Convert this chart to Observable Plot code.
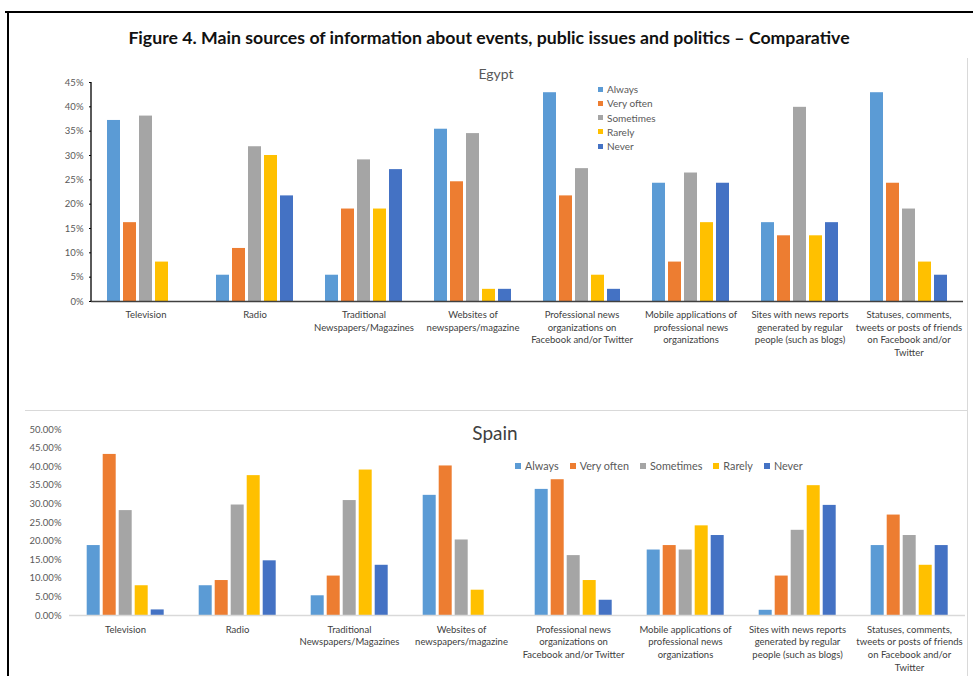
<!DOCTYPE html>
<html>
<head>
<meta charset="utf-8">
<script src="https://cdn.jsdelivr.net/npm/d3@7"></script>
<script src="https://cdn.jsdelivr.net/npm/@observablehq/plot@0.6"></script>
<style>
  html, body { margin: 0; padding: 0; background: #fff; }
  body { width: 973px; height: 676px; position: relative; overflow: hidden; font-family: Lato, "Open Sans", sans-serif; }
  .abs { position: absolute; }
  #title { left: 0; width: 978px; top: 27px; text-align: center; font-weight: 700; font-size: 17.7px; color: #111; white-space: nowrap; }
  #egyptTitle { left: 0; width: 992px; top: 65px; text-align: center; font-size: 14px; color: #595959; }
  #spainTitle { left: 0; width: 990px; top: 421px; text-align: center; font-size: 19px; color: #404040; }
  .legend-v { left: 598px; top: 82px; font-size: 10px; color: #595959; }
  .legend-v div { height: 14.25px; line-height: 14.25px; display: flex; align-items: center; }
  .legend-h { left: 515px; top: 459px; font-size: 10.8px; color: #595959; display: flex; align-items: center; }
  .legend-h span.item { display: flex; align-items: center; margin-right: 11px; }
  .sw { display: inline-block; margin-right: 4px; }
  .legend-v .sw { width: 5px; height: 5px; }
  .legend-h .sw { width: 6px; height: 6px; }
  .line { position: absolute; }
</style>
</head>
<body>
<div class="line" style="left:5px; top:11px; width:968px; height:2px; background:#000;"></div>
<div class="line" style="left:7px; top:11px; width:2px; height:665px; background:#000;"></div>
<div class="line" style="left:967px; top:58px; width:1px; height:618px; background:#d9d9d9;"></div>
<div class="line" style="left:25px; top:410px; width:943px; height:1px; background:#d9d9d9;"></div>

<div id="title" class="abs">Figure 4. Main sources of information about events, public issues and politics – Comparative</div>
<div id="egyptChart" class="abs" style="left:0; top:60px;"></div>
<div id="spainChart" class="abs" style="left:0; top:420px;"></div>
<div id="egyptTitle" class="abs">Egypt</div>
<div id="spainTitle" class="abs">Spain</div>
<div id="egyptLegend" class="abs legend-v"></div>
<div id="spainLegend" class="abs legend-h"></div>

<script>
// ---- Data ----
const categories = ["Television", "Radio", "Traditional", "Websites", "Professional", "Mobile", "Sites", "Statuses"];
const categoryLabels = [
  "Television",
  "Radio",
  "Traditional\nNewspapers/Magazines",
  "Websites of\nnewspapers/magazine",
  "Professional news\norganizations on\nFacebook and/or Twitter",
  "Mobile applications of\nprofessional news\norganizations",
  "Sites with news reports\ngenerated by regular\npeople (such as blogs)",
  "Statuses, comments,\ntweets or posts of friends\non Facebook and/or\nTwitter"
];
const seriesNames = ["Always", "Very often", "Sometimes", "Rarely", "Never"];
const seriesColors = ["#5B9BD5", "#ED7D31", "#A5A5A5", "#FFC000", "#4472C4"];

// Egypt (%)
const egyptAlways    = [37.2, 5.4, 5.4, 35.4, 42.9, 24.3, 16.2, 42.9];
const egyptVeryOften = [16.2, 10.9, 19.0, 24.6, 21.7, 8.1, 13.5, 24.3];
const egyptSometimes = [38.1, 31.8, 29.1, 34.5, 27.3, 26.4, 39.9, 19.0];
const egyptRarely    = [8.1, 30.0, 19.0, 2.5, 5.4, 16.2, 13.5, 8.1];
const egyptNever     = [0, 21.7, 27.1, 2.5, 2.5, 24.3, 16.2, 5.4];

// Spain (%)
const spainAlways    = [18.8, 8.0, 5.3, 32.3, 33.9, 17.6, 1.4, 18.8];
const spainVeryOften = [43.3, 9.4, 10.6, 40.2, 36.5, 18.8, 10.6, 27.0];
const spainSometimes = [28.2, 29.7, 30.9, 20.3, 16.1, 17.6, 22.9, 21.5];
const spainRarely    = [8.0, 37.6, 39.1, 6.8, 9.4, 24.1, 34.9, 13.5];
const spainNever     = [1.5, 14.7, 13.5, 0, 4.1, 21.5, 29.6, 18.8];

const egyptTicks = [0, 5, 10, 15, 20, 25, 30, 35, 40, 45];
const spainTicks = [0, 5, 10, 15, 20, 25, 30, 35, 40, 45, 50];

function toRows(seriesArrays) {
  const rows = [];
  categories.forEach((c, i) => {
    seriesNames.forEach((s, j) => {
      rows.push({category: c, series: s, value: seriesArrays[j][i]});
    });
  });
  return rows;
}
const egyptData = toRows([egyptAlways, egyptVeryOften, egyptSometimes, egyptRarely, egyptNever]);
const spainData = toRows([spainAlways, spainVeryOften, spainSometimes, spainRarely, spainNever]);

const labelOf = d => categoryLabels[categories.indexOf(d)];
const tickFont = "Lato, 'Open Sans', sans-serif";

// ---- Egypt ----
const egypt = Plot.plot({
  width: 973,
  height: 311,
  marginTop: 22,
  marginBottom: 70,
  marginLeft: 89,
  marginRight: 8.5,
  style: {fontFamily: tickFont, background: "transparent", overflow: "visible"},
  fx: {domain: categories, padding: 0, label: null},
  x: {domain: seriesNames, axis: null, paddingInner: 0.2, paddingOuter: 0.9},
  y: {domain: [0, 45], label: null},
  color: {domain: seriesNames, range: seriesColors},
  marks: [
    Plot.barY(egyptData, {fx: "category", x: "series", y: "value", fill: "series"}),
    Plot.axisY({ticks: egyptTicks, tickFormat: d => d + "%", tickSize: 2, tickPadding: 6, stroke: "#000", fill: "#595959", fontSize: 9.5, label: null}),
    Plot.axisFx({anchor: "bottom", tickSize: 0, tickPadding: 7.5, tickFormat: labelOf, lineHeight: 1.34, fontSize: 9.5, fill: "#404040", label: null}),
    Plot.ruleY([0], {stroke: "#404040", strokeWidth: 1.5})
  ]
});
document.getElementById("egyptChart").appendChild(egypt);

// ---- Spain ----
const spain = Plot.plot({
  width: 973,
  height: 256,
  marginTop: 9,
  marginBottom: 61,
  marginLeft: 68.3,
  marginRight: 6.4,
  style: {fontFamily: tickFont, background: "transparent", overflow: "visible"},
  fx: {domain: categories, padding: 0, label: null},
  x: {domain: seriesNames, axis: null, paddingInner: 0.2, paddingOuter: 0.92},
  y: {domain: [0, 50], label: null},
  color: {domain: seriesNames, range: seriesColors},
  marks: [
    Plot.barY(spainData, {fx: "category", x: "series", y: "value", fill: "series"}),
    Plot.axisY({ticks: spainTicks, tickFormat: d => d.toFixed(2) + "%", tickSize: 0, tickPadding: 8, fill: "#595959", fontSize: 9.5, label: null}),
    Plot.axisFx({anchor: "bottom", tickSize: 0, tickPadding: 8, tickFormat: labelOf, lineHeight: 1.34, fontSize: 9.5, fill: "#404040", label: null}),
    Plot.ruleY([0], {stroke: "#d9d9d9", strokeWidth: 1.5})
  ]
});
document.getElementById("spainChart").appendChild(spain);

// Egypt y-axis line in the leftmost facet, positioned with the plot's own scales
(function addEgyptAxisLine() {
  const yScale = egypt.scale("y");
  const fxScale = egypt.scale("fx");
  const ns = "http://www.w3.org/2000/svg";
  const line = document.createElementNS(ns, "line");
  const x0 = fxScale.apply(categories[0]);
  line.setAttribute("x1", x0);
  line.setAttribute("x2", x0);
  line.setAttribute("y1", yScale.apply(45));
  line.setAttribute("y2", yScale.apply(0));
  line.setAttribute("stroke", "#000");
  line.setAttribute("stroke-width", "1.3");
  egypt.appendChild(line);
})();

// ---- Legends ----
function legend(el) {
  seriesNames.forEach((s, i) => {
    const item = document.createElement(el.classList.contains("legend-h") ? "span" : "div");
    item.className = "item";
    const sw = document.createElement("span");
    sw.className = "sw";
    sw.style.background = seriesColors[i];
    item.appendChild(sw);
    item.appendChild(document.createTextNode(s));
    el.appendChild(item);
  });
}
legend(document.getElementById("egyptLegend"));
legend(document.getElementById("spainLegend"));
</script>
</body>
</html>
